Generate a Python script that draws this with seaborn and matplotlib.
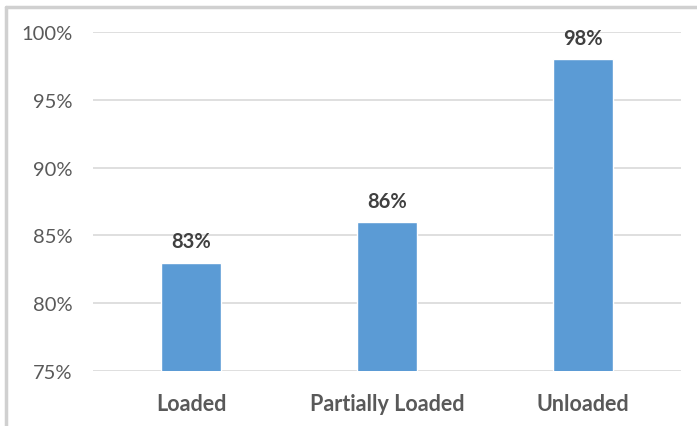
import matplotlib
matplotlib.use("Agg")
import matplotlib.pyplot as plt
from matplotlib.lines import Line2D
import seaborn as sns
import pandas as pd

categories = ["Loaded", "Partially Loaded", "Unloaded"]
values = [83, 86, 98]
y_ticks = [75, 80, 85, 90, 95, 100]
y_tick_labels = ["75%", "80%", "85%", "90%", "95%", "100%"]

df = pd.DataFrame({"category": categories, "value": values})

sns.set_theme(style="white")
plt.rcParams["font.family"] = ["Lato", "DejaVu Sans"]

fig = plt.figure(figsize=(6.97, 4.27), dpi=100)
ax = fig.add_axes([0.1334, 0.1288, 0.8436, 0.7939])

sns.barplot(data=df, x="category", y="value", color="#5B9BD5",
            width=0.31, saturation=1, ax=ax, zorder=3)

ax.set_ylim(75, 100)
ax.set_yticks(y_ticks)
ax.set_yticklabels(y_tick_labels, fontsize=14.5, color="#595959")
ax.set_xlim(-0.5, 2.5)
ax.set_xlabel("")
ax.set_ylabel("")
for lbl in ax.get_xticklabels():
    lbl.set_fontsize(15.5)
    lbl.set_fontweight("bold")
    lbl.set_color("#595959")
ax.tick_params(axis="both", length=0)
ax.tick_params(axis="y", pad=15)
ax.tick_params(axis="x", pad=16)
ax.grid(axis="y", color="#d9d9d9", linewidth=1.2, zorder=0)
for s in ax.spines.values():
    s.set_visible(False)

for i, v in enumerate(values):
    ax.annotate(f"{v}%", (i, v), xytext=(0, 8), textcoords="offset points",
                ha="center", va="bottom", fontsize=14.5, fontweight="bold",
                color="#404040")

# outer chart frame (top and left edges)
fig.add_artist(Line2D([5.5 / 697, 1.0], [1 - 8 / 427, 1 - 8 / 427],
                      transform=fig.transFigure, color="#d0d0d0", linewidth=2.5))
fig.add_artist(Line2D([5.5 / 697, 5.5 / 697], [0, 1 - 8 / 427],
                      transform=fig.transFigure, color="#d0d0d0", linewidth=2.5))

fig.savefig("out.png", dpi=100, facecolor="white")
